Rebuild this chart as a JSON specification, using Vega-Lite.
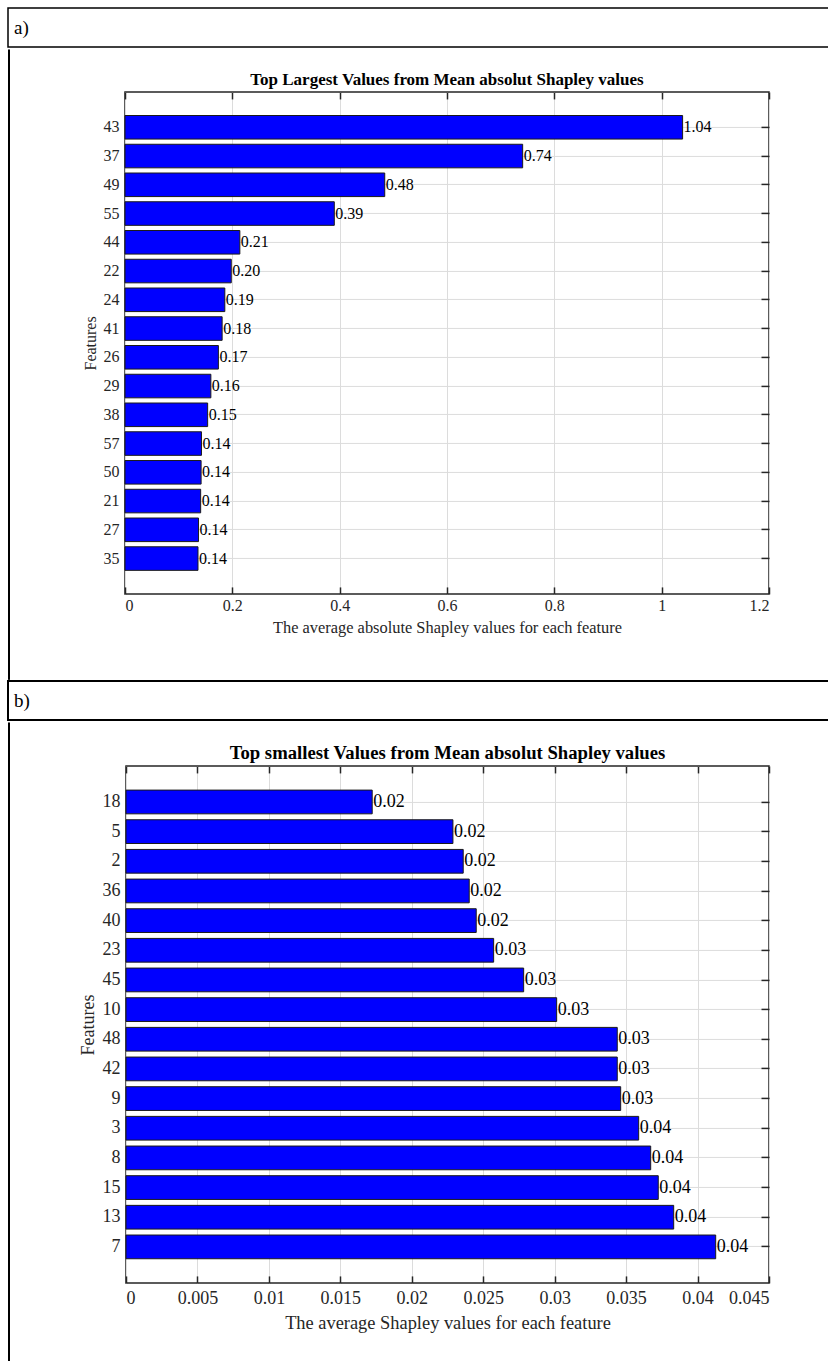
{
  "$schema": "https://vega.github.io/schema/vega-lite/v6.json",
  "padding": {"left": 7, "top": 7, "right": 0, "bottom": 0},
  "background": "white",
  "datasets": {
    "top": [
      {"feature": "43", "value": 1.039},
      {"feature": "37", "value": 0.741},
      {"feature": "49", "value": 0.484},
      {"feature": "55", "value": 0.390},
      {"feature": "44", "value": 0.214},
      {"feature": "22", "value": 0.198},
      {"feature": "24", "value": 0.186},
      {"feature": "41", "value": 0.181},
      {"feature": "26", "value": 0.174},
      {"feature": "29", "value": 0.160},
      {"feature": "38", "value": 0.154},
      {"feature": "57", "value": 0.1425},
      {"feature": "50", "value": 0.1418},
      {"feature": "21", "value": 0.141},
      {"feature": "27", "value": 0.137},
      {"feature": "35", "value": 0.136}
    ],
    "bottom": [
      {"feature": "18", "value": 0.01723},
      {"feature": "5", "value": 0.02288},
      {"feature": "2", "value": 0.02360},
      {"feature": "36", "value": 0.02402},
      {"feature": "40", "value": 0.02451},
      {"feature": "23", "value": 0.02573},
      {"feature": "45", "value": 0.02783},
      {"feature": "10", "value": 0.03014},
      {"feature": "48", "value": 0.03438},
      {"feature": "42", "value": 0.03438},
      {"feature": "9", "value": 0.03462},
      {"feature": "3", "value": 0.03588},
      {"feature": "8", "value": 0.03672},
      {"feature": "15", "value": 0.03725},
      {"feature": "13", "value": 0.03833},
      {"feature": "7", "value": 0.04127}
    ],
    "hdrA": [{"label": "a)"}],
    "hdrB": [{"label": "b)"}]
  },
  "config": {
    "font": "Liberation Serif",
    "view": {"stroke": "#262626", "strokeWidth": 1.5},
    "axis": {
      "labelFont": "Liberation Serif",
      "labelColor": "#262626",
      "titleFont": "Liberation Serif",
      "titleFontWeight": "normal",
      "titleColor": "#262626",
      "domain": false,
      "tickColor": "#262626",
      "tickWidth": 1.5,
      "gridColor": "#dcdcdc",
      "gridWidth": 1
    },
    "title": {"font": "Liberation Serif", "fontWeight": "bold", "color": "black", "offset": 2, "frame": "group"}
  },
  "spacing": 0,
  "vconcat": [
    {
      "width": 822, "height": 39,
      "data": {"name": "hdrA"},
      "view": {"stroke": "black", "strokeWidth": 1.5},
      "mark": {"type": "text", "align": "left", "baseline": "middle", "fontSize": 19, "font": "Liberation Serif", "color": "black", "dx": 6},
      "encoding": {
        "text": {"field": "label"},
        "x": {"field": "label", "type": "nominal", "scale": {"type": "point", "padding": 0, "align": 0}, "axis": null}
      }
    },
    {
      "spacing": 71,
      "center": true,
      "hconcat": [
        {
          "width": 1, "height": 630,
          "data": {"values": []},
          "view": {"stroke": "black", "strokeWidth": 1},
          "mark": "point"
        },
        {
          "width": 644, "height": 502,
          "title": {"text": "Top Largest Values from Mean absolut Shapley values", "fontSize": 17},
          "data": {"name": "top"},
          "layer": [
            {
              "mark": {"type": "bar", "fill": "#0000ff", "stroke": "#1a1a1a", "strokeWidth": 1},
              "encoding": {
                "x": {"field": "value", "type": "quantitative", "scale": {"domain": [0, 1.2], "nice": false},
                  "axis": {"orient": "bottom", "values": [0, 0.2, 0.4, 0.6, 0.8, 1, 1.2], "format": "~g", "grid": true, "tickSize": -7, "labelPadding": 11, "labelFontSize": 16, "title": "The average absolute Shapley values for each feature", "titleFontSize": 16.4, "titlePadding": 6}},
                "y": {"field": "feature", "type": "nominal", "sort": null, "scale": {"paddingInner": 0.18, "paddingOuter": 0.82},
                  "axis": {"orient": "left", "grid": true, "bandPosition": 0.5, "tickSize": -8, "labelPadding": 14, "labelFontSize": 16, "title": "Features", "titleFontSize": 16, "titlePadding": 5}}
              }
            },
            {
              "mark": {"type": "text", "align": "left", "baseline": "middle", "font": "Liberation Serif", "fontSize": 16, "color": "black", "dx": 1},
              "encoding": {
                "x": {"field": "value", "type": "quantitative",
                  "axis": {"orient": "top", "values": [0, 0.2, 0.4, 0.6, 0.8, 1, 1.2], "labels": false, "grid": false, "tickSize": -7, "title": null}},
                "y": {"field": "feature", "type": "nominal", "sort": null,
                  "axis": {"orient": "right", "labels": false, "grid": false, "bandPosition": 0.5, "tickSize": -8, "title": null}},
                "text": {"field": "value", "type": "quantitative", "format": ".2f"}
              }
            }
          ],
          "resolve": {"axis": {"x": "independent", "y": "independent"}}
        }
      ]
    },
    {
      "width": 822, "height": 39,
      "data": {"name": "hdrB"},
      "view": {"stroke": "black", "strokeWidth": 2},
      "mark": {"type": "text", "align": "left", "baseline": "middle", "fontSize": 19, "font": "Liberation Serif", "color": "black", "dx": 6},
      "encoding": {
        "text": {"field": "label"},
        "x": {"field": "label", "type": "nominal", "scale": {"type": "point", "padding": 0, "align": 0}, "axis": null}
      }
    },
    {
      "spacing": 68,
      "center": true,
      "hconcat": [
        {
          "width": 1, "height": 654,
          "data": {"values": []},
          "view": {"stroke": "black", "strokeWidth": 1},
          "mark": "point"
        },
        {
          "width": 643, "height": 517,
          "title": {"text": "Top smallest Values from Mean absolut Shapley values", "fontSize": 18.7},
          "data": {"name": "bottom"},
          "layer": [
            {
              "mark": {"type": "bar", "fill": "#0000ff", "stroke": "#1a1a1a", "strokeWidth": 1},
              "encoding": {
                "x": {"field": "value", "type": "quantitative", "scale": {"domain": [0, 0.045], "nice": false},
                  "axis": {"orient": "bottom", "values": [0, 0.005, 0.01, 0.015, 0.02, 0.025, 0.03, 0.035, 0.04, 0.045], "format": "~g", "grid": true, "tickSize": -7, "labelPadding": 14, "labelFontSize": 18, "title": "The average Shapley values for each feature", "titleFontSize": 18.4, "titlePadding": 6}},
                "y": {"field": "feature", "type": "nominal", "sort": null, "scale": {"paddingInner": 0.2, "paddingOuter": 0.815},
                  "axis": {"orient": "left", "grid": true, "bandPosition": 0.5, "tickSize": -8, "labelPadding": 14, "labelFontSize": 18, "title": "Features", "titleFontSize": 18, "titlePadding": 5}}
              }
            },
            {
              "mark": {"type": "text", "align": "left", "baseline": "middle", "font": "Liberation Serif", "fontSize": 18, "color": "black", "dx": 1},
              "encoding": {
                "x": {"field": "value", "type": "quantitative",
                  "axis": {"orient": "top", "values": [0, 0.005, 0.01, 0.015, 0.02, 0.025, 0.03, 0.035, 0.04, 0.045], "labels": false, "grid": false, "tickSize": -7, "title": null}},
                "y": {"field": "feature", "type": "nominal", "sort": null,
                  "axis": {"orient": "right", "labels": false, "grid": false, "bandPosition": 0.5, "tickSize": -8, "title": null}},
                "text": {"field": "value", "type": "quantitative", "format": ".2f"}
              }
            }
          ],
          "resolve": {"axis": {"x": "independent", "y": "independent"}}
        }
      ]
    }
  ]
}
